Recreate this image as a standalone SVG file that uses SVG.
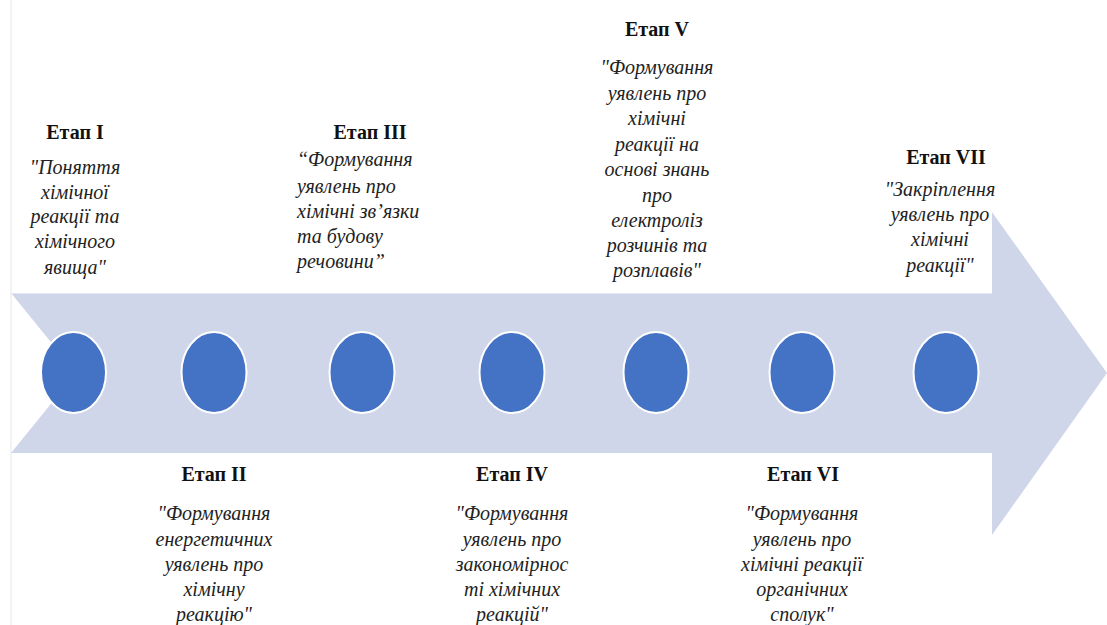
<svg xmlns="http://www.w3.org/2000/svg" width="1107" height="625" viewBox="0 0 1107 625">
<style>
.bg{fill:#ffffff}
.arrow{fill:#CFD6EA}
.dot{fill:#4472C4;stroke:#ffffff;stroke-width:2}
.t{font-family:'Liberation Serif','Times New Roman',serif;font-weight:bold;font-size:20px;fill:#111111;text-anchor:middle}
.d{font-family:'Liberation Serif','Times New Roman',serif;font-style:italic;font-size:20px;fill:#222222;text-anchor:middle}
.l{text-anchor:start}
</style>
<rect class="bg" x="0" y="0" width="1107" height="625"/>
<line x1="11" y1="0" x2="11" y2="625" stroke="#e6e6e6" stroke-width="1"/>
<g id="timeline-arrow">
<polygon class="arrow" points="11,293 992,293 992,212 1107,373 992,535 992,453 11,453 76,373"/>
<line x1="11" y1="293.5" x2="992" y2="293.5" stroke="#E3E7F2" stroke-width="1"/>
</g>
<g id="connectors"></g>
<g id="stage1">
<ellipse class="dot" cx="73.5" cy="372.5" rx="32.5" ry="40.5"/>
<text class="t" x="75" y="139">Етап I</text>
<text class="d" x="75" y="174">"Поняття</text>
<text class="d" x="75" y="199">хімічної</text>
<text class="d" x="75" y="223">реакції та</text>
<text class="d" x="75" y="248">хімічного</text>
<text class="d" x="75" y="274">явища"</text>
</g>
<g id="stage2">
<ellipse class="dot" cx="214" cy="372.5" rx="32.5" ry="40.5"/>
<text class="t" x="214" y="481">Етап II</text>
<text class="d" x="214" y="520">"Формування</text>
<text class="d" x="214" y="546">енергетичних</text>
<text class="d" x="214" y="571">уявлень про</text>
<text class="d" x="214" y="596">хімічну</text>
<text class="d" x="214" y="621">реакцію"</text>
</g>
<g id="stage3">
<ellipse class="dot" cx="362" cy="372.5" rx="32.5" ry="40.5"/>
<text class="t" x="370" y="139">Етап III</text>
<text class="d l" x="297" y="166"> “Формування</text>
<text class="d l" x="297" y="193">уявлень про</text>
<text class="d l" x="297" y="218">хімічні зв’язки</text>
<text class="d l" x="297" y="243">та будову</text>
<text class="d l" x="297" y="268">речовини”</text>
</g>
<g id="stage4">
<ellipse class="dot" cx="512" cy="372.5" rx="32.5" ry="40.5"/>
<text class="t" x="512" y="481">Етап IV</text>
<text class="d" x="512" y="520">"Формування</text>
<text class="d" x="512" y="546">уявлень про</text>
<text class="d" x="512" y="571">закономірнос</text>
<text class="d" x="512" y="596">ті хімічних</text>
<text class="d" x="512" y="621">реакцій"</text>
</g>
<g id="stage5">
<ellipse class="dot" cx="656" cy="372.5" rx="32.5" ry="40.5"/>
<text class="t" x="657" y="36">Етап V</text>
<text class="d" x="657" y="74">"Формування</text>
<text class="d" x="657" y="100">уявлень про</text>
<text class="d" x="657" y="125">хімічні</text>
<text class="d" x="657" y="151">реакції на</text>
<text class="d" x="657" y="176">основі знань</text>
<text class="d" x="657" y="202">про</text>
<text class="d" x="657" y="227">електроліз</text>
<text class="d" x="657" y="252">розчинів та</text>
<text class="d" x="657" y="277">розплавів"</text>
</g>
<g id="stage6">
<ellipse class="dot" cx="802" cy="372.5" rx="32.5" ry="40.5"/>
<text class="t" x="803" y="481">Етап VI</text>
<text class="d" x="802" y="520">"Формування</text>
<text class="d" x="802" y="546">уявлень про</text>
<text class="d" x="802" y="571">хімічні реакції</text>
<text class="d" x="802" y="596">органічних</text>
<text class="d" x="802" y="621">сполук"</text>
</g>
<g id="stage7">
<rect class="bg" x="880" y="140" width="112" height="152"/>
<ellipse class="dot" cx="946" cy="372.5" rx="32.5" ry="40.5"/>
<text class="t" x="946" y="164">Етап VII</text>
<text class="d" x="940" y="196">"Закріплення</text>
<text class="d" x="940" y="221">уявлень про</text>
<text class="d" x="940" y="246">хімічні</text>
<text class="d" x="940" y="272">реакції"</text>
</g>
</svg>
